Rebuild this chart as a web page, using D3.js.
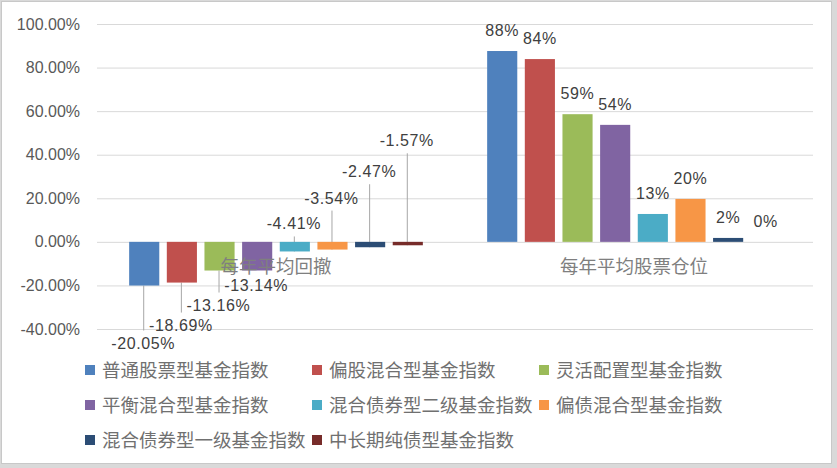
<!DOCTYPE html>
<html><head><meta charset="utf-8">
<script src="https://cdn.jsdelivr.net/npm/d3@7"></script>
<style>body{margin:0;background:#d9d9d9;} svg{display:block}</style>
</head><body><svg id="c" width="837" height="468"></svg>
<script>
const categories = ["每年平均回撤", "每年平均股票仓位"];
const seriesNames = ["普通股票型基金指数", "偏股混合型基金指数", "灵活配置型基金指数", "平衡混合型基金指数",
  "混合债券型二级基金指数", "偏债混合型基金指数", "混合债券型一级基金指数", "中长期纯债型基金指数"];
const drawdown = [-0.2005, -0.1869, -0.1316, -0.1314, -0.0441, -0.0354, -0.0247, -0.0157];
const stockPosition = [0.876, 0.839, 0.586, 0.537, 0.128, 0.197, 0.018, 0.0];
const yTicks = [-0.4, -0.2, 0, 0.2, 0.4, 0.6, 0.8, 1.0];
const colors = ["#4f81bd", "#c0504d", "#9bbb59", "#8064a2", "#4bacc6", "#f79646", "#2c4d75", "#772c2a"];

// layout (manual label placement of the drawdown labels, pixels from bar end to baseline)
const drawdownLabelDy = [63, 48, 40, 21, -22, -46, -70, -99];

const svg = d3.select("#c");
const W = 837, H = 468;
const plot = {left: 97, right: 813, top: 24, bottom: 329};

const loc = d3.formatLocale({decimal: ".", thousands: ",", grouping: [3], currency: ["", ""], minus: "-"});
const fmt2 = loc.format(".2%"), fmt0 = loc.format(".0%");

svg.append("rect").attr("x", 1.5).attr("y", 1.5).attr("width", 830).attr("height", 462)
  .attr("fill", "#fff").attr("stroke", "#c8c8c8");

const y = d3.scaleLinear().domain([-0.4, 1.0]).range([plot.bottom, plot.top]);
const x0 = d3.scaleBand().domain(categories).range([plot.left, plot.right]).padding(0);
const x1 = d3.scaleBand().domain(d3.range(seriesNames.length)).range([0, x0.bandwidth()])
  .paddingInner(0.2).paddingOuter(0.854);

// y axis with gridlines
const yAxis = d3.axisLeft(y).tickValues(yTicks).tickFormat(fmt2)
  .tickSizeInner(-(plot.right - plot.left)).tickSizeOuter(0).tickPadding(17);
const ga = svg.append("g").attr("transform", `translate(${plot.left},0)`).call(yAxis);
ga.select(".domain").remove();
ga.selectAll(".tick line").attr("stroke", "#d9d9d9");
ga.selectAll(".tick text").attr("fill", "#595959")
  .style("font-family", "'Liberation Sans', Arial, sans-serif").style("font-size", "16px");

const datasets = [drawdown, stockPosition];
const labelFont = "'Liberation Sans', Arial, sans-serif";

// leader lines for drawdown labels (behind bars)
const gl = svg.append("g");
drawdown.forEach((v, i) => {
  const cx = x0(categories[0]) + x1(i) + x1.bandwidth() / 2 - 0.5;
  const yEnd = y(v);
  const base = yEnd + drawdownLabelDy[i];
  let y1, y2;
  if (drawdownLabelDy[i] > 0) { y1 = yEnd; y2 = base - 18; }
  else { y1 = base + 7; y2 = yEnd; }
  if (y2 - y1 > 5) {
    gl.append("line").attr("x1", cx).attr("x2", cx).attr("y1", y1).attr("y2", y2)
      .attr("stroke", "#a6a6a6").attr("stroke-width", 1);
  }
});

// bars
categories.forEach((c, ci) => {
  const g = svg.append("g");
  g.selectAll("rect").data(datasets[ci]).join("rect")
    .attr("x", (d, i) => x0(c) + x1(i))
    .attr("width", x1.bandwidth())
    .attr("y", d => Math.min(y(d), y(0)))
    .attr("height", d => Math.abs(y(d) - y(0)))
    .attr("fill", (d, i) => colors[i]);
});

// drawdown labels
svg.append("g").selectAll("text").data(drawdown).join("text")
  .attr("x", (d, i) => x0(categories[0]) + x1(i) + x1.bandwidth() / 2 - 1)
  .attr("y", (d, i) => y(d) + drawdownLabelDy[i])
  .attr("text-anchor", "middle").attr("fill", "#404040")
  .style("font-family", labelFont).style("font-size", "16px").style("letter-spacing", "0.6px")
  .text(d => fmt2(d));

// stock position labels
svg.append("g").selectAll("text").data(stockPosition).join("text")
  .attr("x", (d, i) => x0(categories[1]) + x1(i) + x1.bandwidth() / 2)
  .attr("y", d => y(d) - 15)
  .attr("text-anchor", "middle").attr("fill", "#404040")
  .style("font-family", labelFont).style("font-size", "16px").style("letter-spacing", "0.6px")
  .text(d => fmt0(d));

// category labels
svg.append("g").selectAll("text").data(categories).join("text")
  .attr("x", d => x0(d) + x0.bandwidth() / 2)
  .attr("y", y(0) + 31)
  .attr("text-anchor", "middle").attr("fill", "#7f7f7f")
  .style("font-family", "'Noto Sans CJK SC', sans-serif").style("font-size", "18.5px")
  .text(d => d);

// legend
const legX = [85, 312, 539], legY = [370, 405, 440];
const lg = svg.append("g");
seriesNames.forEach((n, i) => {
  const cx = legX[i % 3], cy = legY[Math.floor(i / 3)];
  lg.append("rect").attr("x", cx).attr("y", cy - 5).attr("width", 10).attr("height", 10).attr("fill", colors[i]);
  lg.append("text").attr("x", cx + 17).attr("y", cy).attr("dy", "0.36em")
    .attr("fill", "#707070")
    .style("font-family", "'Noto Sans CJK SC', sans-serif").style("font-size", "18.5px")
    .text(n);
});
</script></body></html>
